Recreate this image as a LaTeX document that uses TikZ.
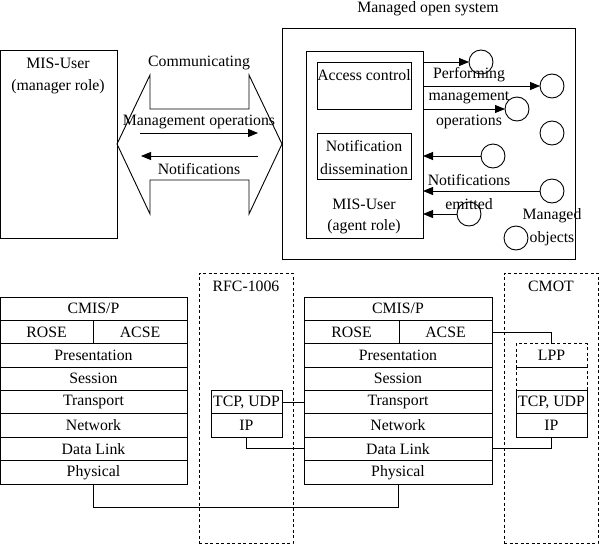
\documentclass[tikz,border=0pt]{standalone}
\usepackage{fontspec}
\setmainfont{Liberation Serif}
\usetikzlibrary{arrows.meta}
\begin{document}
\begin{tikzpicture}[x=1pt,y=-1pt,
  line width=0.9pt,
  every node/.style={font=\fontsize{15.8}{18}\selectfont, inner sep=0pt, outer sep=0pt},
  box/.style={draw, anchor=north west, minimum height=23.375pt},
  dbox/.style={draw, dashed, dash pattern=on 3pt off 2.5pt, anchor=north west},
  arr/.style={-{Triangle[length=10pt,width=8pt]}},
  obj/.style={draw, circle, minimum size=24pt}
]
\useasboundingbox (0,0) rectangle (600,554);

% ---------- top: manager ----------
\node[box, minimum width=117pt, minimum height=188pt] (mgr) at (0,50) {};
\node (mgrt1) at (58,63) {MIS-User};
\node (mgrt2) at (58,87) {(manager role)};

% double arrow
\draw (117,144) -- (150,75) -- (150,109) -- (249,109) -- (249,75) -- (282,144)
      -- (249,214) -- (249,180) -- (150,180) -- (150,214) -- cycle;
\node (comm) at (199,63) {Communicating};
\node (mops) at (199,122) {Management operations};
\node (notif) at (199,169) {Notifications};
\coordinate (a1s) at (140,133); \coordinate (a1e) at (258,133);
\coordinate (a2s) at (258,156); \coordinate (a2e) at (141,156);
\draw[arr] (a1s) -- (a1e);
\draw[arr] (a2s) -- (a2e);

% ---------- managed open system ----------
\node (mostitle) at (428,9) {Managed open system};
\node[box, minimum width=293pt, minimum height=231pt] (mos) at (282,28) {};
\node[box, minimum width=117pt, minimum height=187pt] (agent) at (306,51) {};
\node[box, minimum width=94pt, minimum height=47pt] (acc) at (317,62) {};
\node (acct) at (364,75) {Access control};
\node[box, minimum width=94pt, minimum height=46pt] (nd) at (317,133) {};
\node (nd1) at (364,146) {Notification};
\node (nd2) at (364,169) {dissemination};
\node (ag1) at (364,204) {MIS-User};
\node (ag2) at (364,227) {(agent role)};

\node[obj] (o1) at (481,62) {};
\node[obj] (o2) at (552,86) {};
\node[obj] (o3) at (517,109) {};
\node[obj] (o4) at (552,133) {};
\node[obj] (o5) at (493,156) {};
\node[obj] (o6) at (552,191) {};
\node[obj] (o7) at (469,214) {};
\node[obj] (o8) at (516,238) {};

\draw[arr] (agent.east |- o1) -- (o1.west);
\draw[arr] (agent.east |- o2) -- (o2.west);
\draw[arr] (agent.east |- o3) -- (o3.west);
\draw[arr] (o5.west) -- (agent.east |- o5);
\draw[arr] (o6.west) -- (agent.east |- o6);
\draw[arr] (o7.west) -- (agent.east |- o7);

\node (pf1) at (469,75) {Performing};
\node (pf2) at (469,98) {management};
\node (pf3) at (469,122) {operations};
\node (ne1) at (469,180) {Notifications};
\node (ne2) at (469,204) {emitted};
\node (mo1) at (552,216) {Managed};
\node (mo2) at (552,239) {objects};

% ---------- lower: dashed groups ----------
\node[dbox, minimum width=94pt, minimum height=270pt] (rfc) at (199,273) {};
\node (rfct) at (246,286) {RFC-1006};
\node[dbox, minimum width=94pt, minimum height=270pt] (cmot) at (504,273) {};
\node (cmott) at (551,286) {CMOT};

% left stack
\node[box, minimum width=187pt] (lcmis) at (0,297) {CMIS/P};
\node[box, minimum width=93pt] (lrose) at (0,320.375) {ROSE};
\node[box, minimum width=94pt] (lacse) at (93,320.375) {ACSE};
\node[box, minimum width=187pt] (lpres) at (0,343.75) {Presentation};
\node[box, minimum width=187pt] (lsess) at (0,367.125) {Session};
\node[box, minimum width=187pt] (ltrans) at (0,390.5) {Transport};
\node[box, minimum width=187pt] (lnet) at (0,413.875) {Network};
\node[box, minimum width=187pt] (ldl) at (0,437.25) {Data Link};
\node[box, minimum width=187pt] (lphys) at (0,460.625) {Physical};

% right stack
\node[box, minimum width=188pt] (rcmis) at (304,297) {CMIS/P};
\node[box, minimum width=95pt] (rrose) at (304,320.375) {ROSE};
\node[box, minimum width=93pt] (racse) at (399,320.375) {ACSE};
\node[box, minimum width=188pt] (rpres) at (304,343.75) {Presentation};
\node[box, minimum width=188pt] (rsess) at (304,367.125) {Session};
\node[box, minimum width=188pt] (rtrans) at (304,390.5) {Transport};
\node[box, minimum width=188pt] (rnet) at (304,413.875) {Network};
\node[box, minimum width=188pt] (rdl) at (304,437.25) {Data Link};
\node[box, minimum width=188pt] (rphys) at (304,460.625) {Physical};

% RFC-1006 boxes
\node[box, minimum width=71pt] (rtcp) at (211,390.5) {TCP, UDP};
\node[box, minimum width=71pt] (rip) at (211,413.875) {IP};

% CMOT boxes
\node[dbox, minimum width=71pt, minimum height=23.375pt] (clpp) at (516,343.75) {LPP};
\node[dbox, minimum width=71pt, minimum height=23.375pt] (cempty) at (516,367.125) {};
\node[box, minimum width=71pt] (ctcp) at (516,390.5) {TCP, UDP};
\node[box, minimum width=71pt] (cip) at (516,413.875) {IP};

% connectors
\coordinate (bus) at (0,507);
\draw (racse.east) -| (clpp.north);
\draw (rtcp.east) -- (rtrans.west);
\draw (rip.south) |- (rdl.west);
\draw (rdl.east) -| (cip.south);
\draw (lphys.south) |- (bus -| rphys.south) -- (rphys.south);
\end{tikzpicture}
\end{document}
